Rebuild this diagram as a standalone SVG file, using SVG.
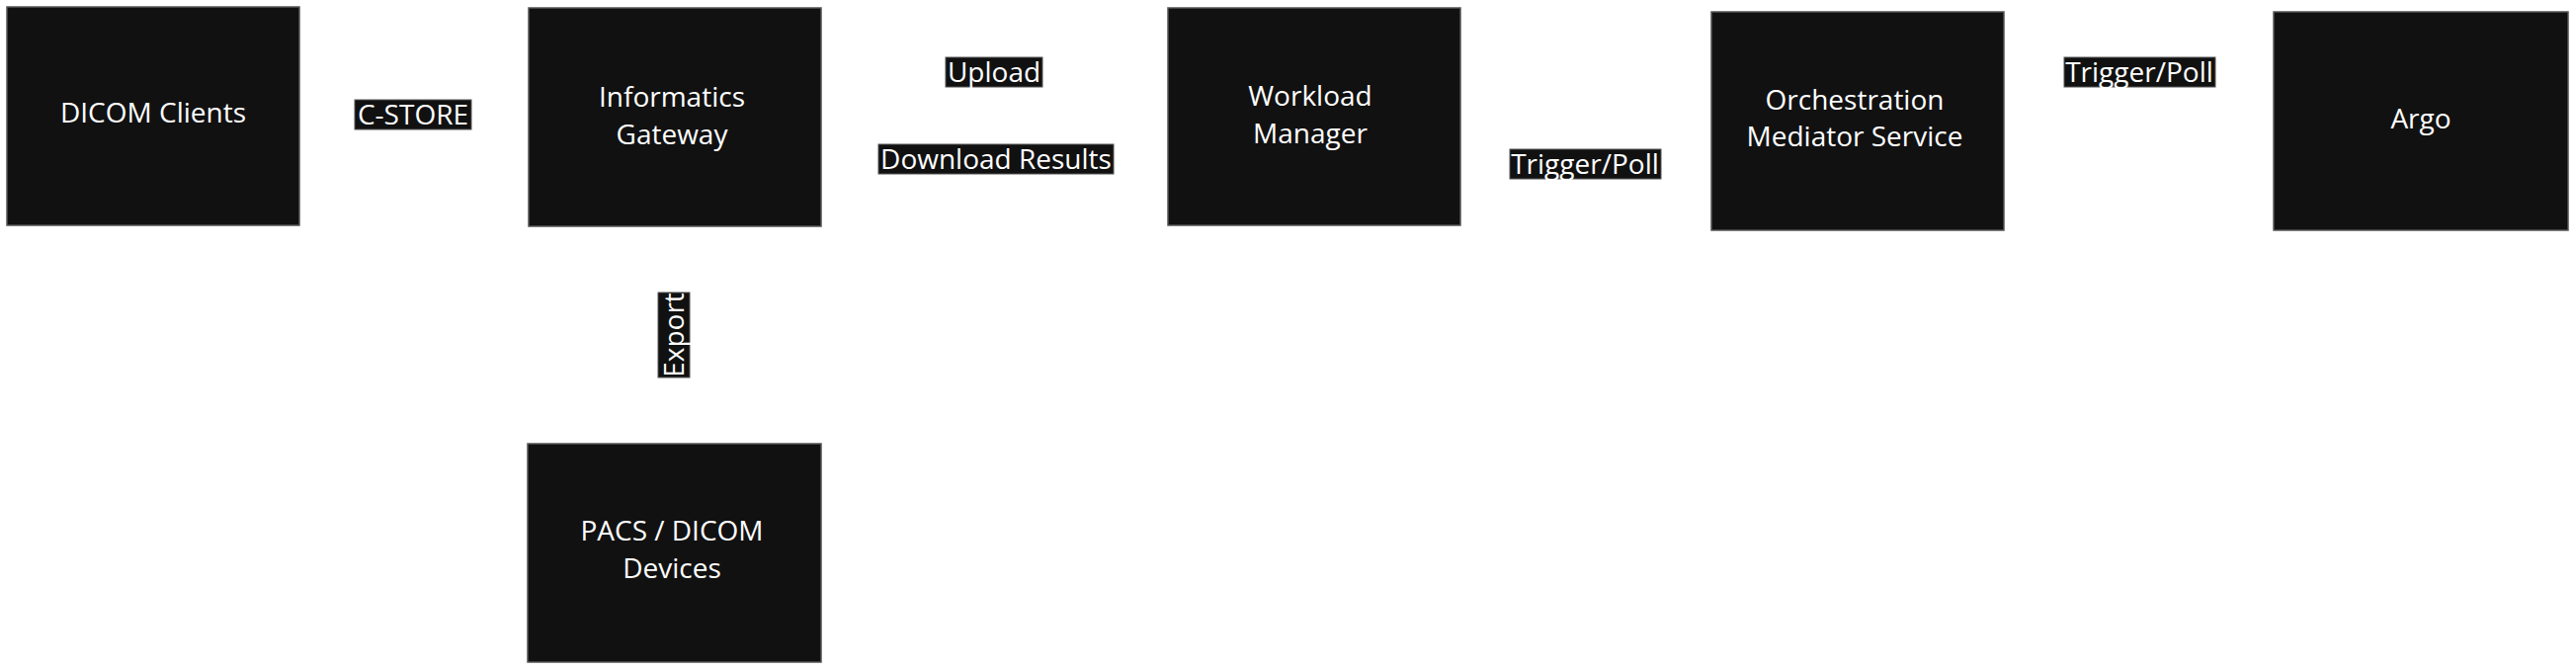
<svg xmlns="http://www.w3.org/2000/svg" width="2607" height="678" viewBox="0 0 2607 678">
<style>
.node rect{fill:#111111;stroke:#555555;stroke-width:1.5}
.node text{fill:#ffffff;font-family:"Open Sans","Noto Sans",sans-serif;font-size:28px;text-anchor:middle;dominant-baseline:central}
.lbl rect{fill:#111111;stroke:#555555;stroke-width:1}
.lbl text{fill:#ffffff;font-family:"Open Sans","Noto Sans",sans-serif;font-size:28px;text-anchor:middle;dominant-baseline:central}
</style>
<rect width="2607" height="678" fill="#ffffff"/>
<g id="connectors">
  <g class="lbl" id="lbl-cstore"><rect x="359" y="101" width="118" height="30"/><text x="418" y="115">C-STORE</text></g>
  <g class="lbl" id="lbl-upload"><rect x="957" y="58" width="98" height="30"/><text x="1006" y="72">Upload</text></g>
  <g class="lbl" id="lbl-download"><rect x="889" y="146" width="238" height="30"/><text x="1008" y="160">Download Results</text></g>
  <g class="lbl" id="lbl-trigger1"><rect x="1528" y="151" width="153" height="30"/><text x="1604" y="165">Trigger/Poll</text></g>
  <g class="lbl" id="lbl-trigger2"><rect x="2089" y="58" width="153" height="30"/><text x="2165" y="72">Trigger/Poll</text></g>
  <g class="lbl" id="lbl-export" transform="translate(682 339) rotate(-90)"><rect x="-43" y="-16" width="86" height="32"/><text x="0" y="-1">Export</text></g>
</g>
<g class="node" id="dicom-clients"><rect x="7" y="7" width="296" height="221"/><text x="155" y="113">DICOM Clients</text></g>
<g class="node" id="informatics-gateway"><rect x="535" y="8" width="296" height="221"/><text x="680" y="97">Informatics</text><text x="680" y="135">Gateway</text></g>
<g class="node" id="workload-manager"><rect x="1182" y="8" width="296" height="220"/><text x="1326" y="96">Workload</text><text x="1326" y="134">Manager</text></g>
<g class="node" id="orchestration-mediator"><rect x="1732" y="12" width="296" height="221"/><text x="1877" y="100">Orchestration</text><text x="1877" y="137">Mediator Service</text></g>
<g class="node" id="argo"><rect x="2301" y="12" width="298" height="221"/><text x="2450" y="119">Argo</text></g>
<g class="node" id="pacs-dicom"><rect x="534" y="449" width="297" height="221"/><text x="680" y="536">PACS / DICOM</text><text x="680" y="574">Devices</text></g>
</svg>
